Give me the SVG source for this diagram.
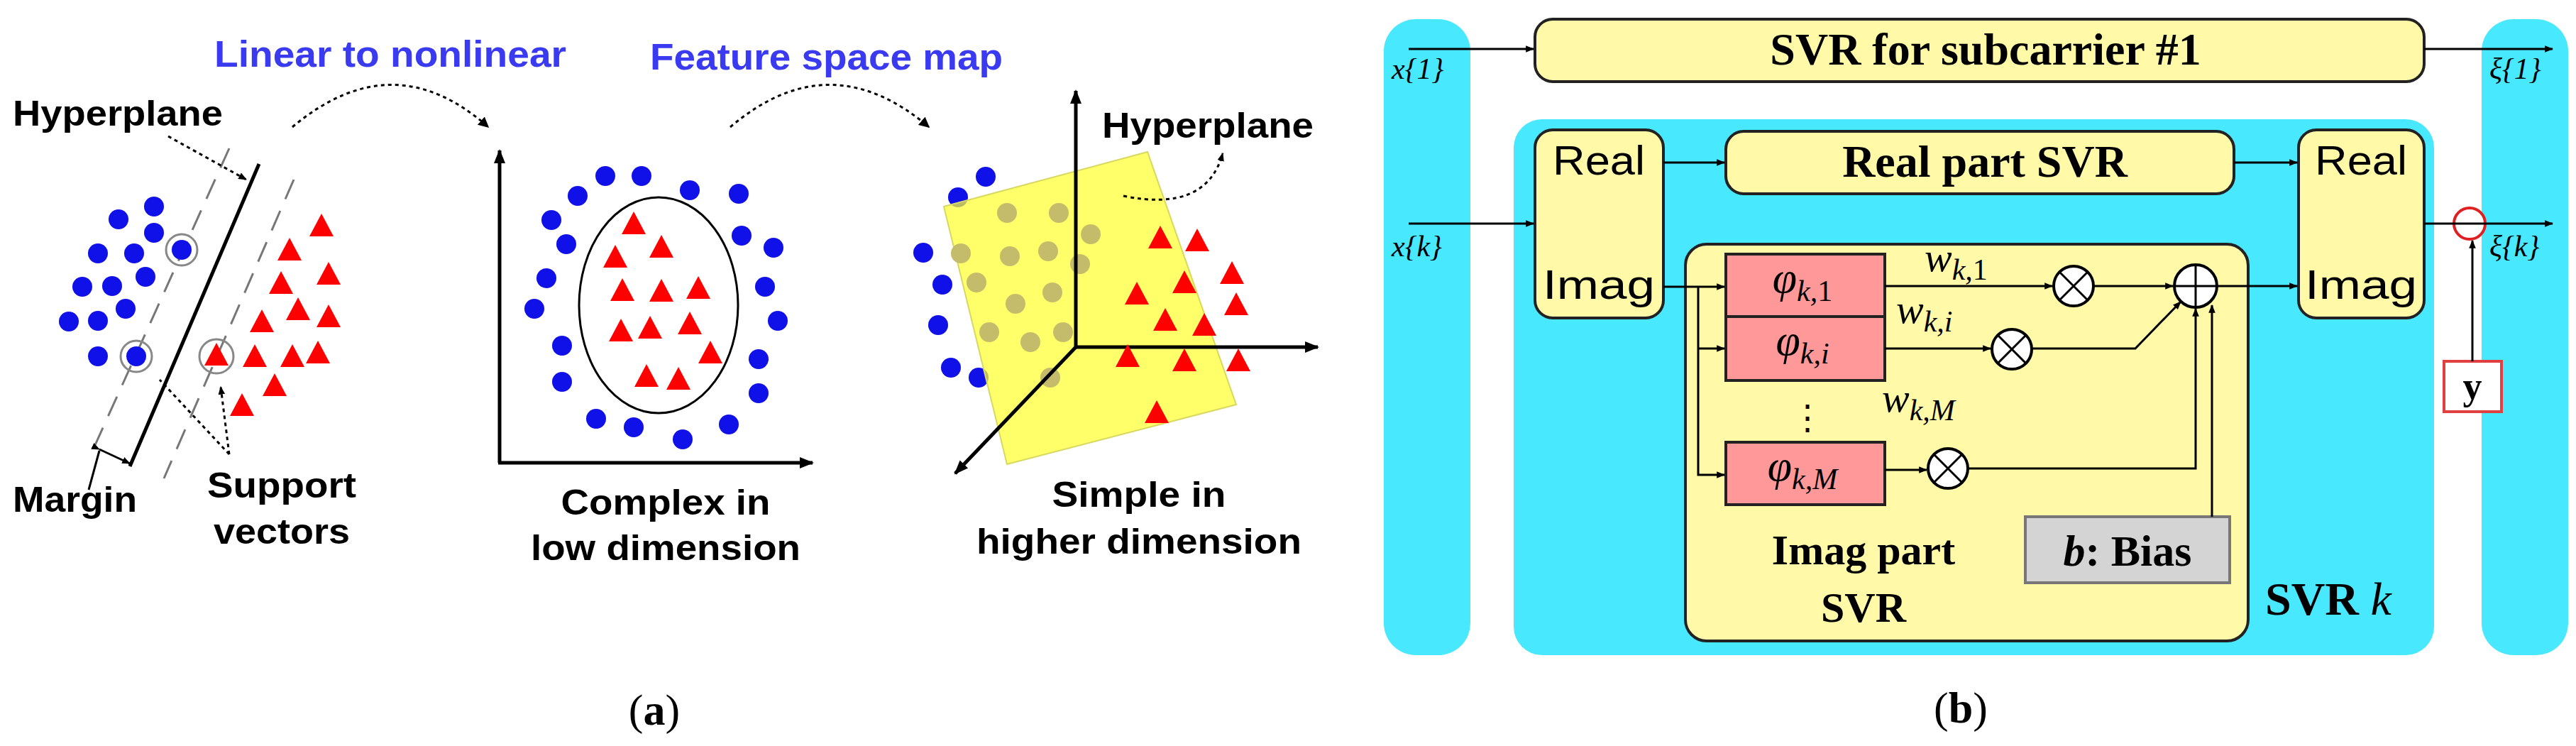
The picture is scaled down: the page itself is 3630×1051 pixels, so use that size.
<svg xmlns="http://www.w3.org/2000/svg" xmlns:xlink="http://www.w3.org/1999/xlink" width="3630" height="1051" viewBox="0 0 3630 1051">
<style>
.lbl{font-family:"Liberation Sans",Arial,sans-serif;font-size:50px;font-weight:bold;fill:#000}
.lbl2{font-family:"Liberation Sans",Arial,sans-serif;font-size:58px;fill:#000}
.blue{font-family:"Liberation Sans",Arial,sans-serif;font-size:52px;font-weight:bold;fill:#3a3af0}
.ser{font-family:"Liberation Serif","Times New Roman",serif;fill:#000}
.bd{font-family:"Liberation Serif","Times New Roman",serif;font-weight:bold;fill:#000}
.it{font-family:"Liberation Serif","Times New Roman",serif;font-style:italic;fill:#000}
.dot{fill:#1010e8}
.gd{fill:#c4bc6a}
.ln{stroke:#000;stroke-width:5;fill:none}
.ln3{stroke:#000;stroke-width:3;fill:none}
.dash{stroke:#777;stroke-width:3;fill:none;stroke-dasharray:30 18}
.dotted{stroke:#000;stroke-width:3;fill:none;stroke-dasharray:5 5}
.ylw{fill:#fff9a8;stroke:#222;stroke-width:4}
.cyan{fill:#48e8ff}
.phi{fill:#ff9898;stroke:#222;stroke-width:4}
.mul{fill:#fff;stroke:#000;stroke-width:4}
.sb{font-size:42px;baseline-shift:-12px}
</style>
<defs>
<marker id="ah" viewBox="0 0 10 10" refX="9" refY="5" markerWidth="5" markerHeight="5" orient="auto"><path d="M0,0L10,5L0,10z" fill="#000"/></marker>
<marker id="ahs" viewBox="0 0 10 10" refX="9" refY="5" markerWidth="4" markerHeight="4" orient="auto"><path d="M0,1L10,5L0,9z" fill="#000"/></marker>
<path id="tri" d="M0,-19L17,13L-17,13z" fill="#f00"/>
</defs>

<!-- Panel (a) -->
<g id="a-titles">
<text class="blue" x="302" y="94" textLength="496" lengthAdjust="spacingAndGlyphs">Linear to nonlinear</text>
<text class="blue" x="916" y="98" textLength="497" lengthAdjust="spacingAndGlyphs">Feature space map</text>
</g>
<g id="a-arrows">
<path class="dotted" d="M412,179 Q554,60 688,179" marker-end="url(#ah)"/>
<path class="dotted" d="M1029,179 Q1169,60 1309,179" marker-end="url(#ah)"/>
</g>
<g id="a-left">
<line class="dash" x1="323" y1="209" x2="134" y2="627"/>
<line class="dash" x1="414" y1="253" x2="231" y2="674"/>
<line class="ln" x1="365" y1="231" x2="183" y2="657"/>
<path class="dotted" d="M237,192 L347,253" marker-end="url(#ahs)"/>
<g>
<circle class="dot" cx="217" cy="291" r="14"/><circle class="dot" cx="167" cy="309" r="14"/><circle class="dot" cx="217" cy="328" r="14"/>
<circle class="dot" cx="138" cy="357" r="14"/><circle class="dot" cx="189" cy="357" r="14"/><circle class="dot" cx="256" cy="352" r="14"/>
<circle class="dot" cx="116" cy="404" r="14"/><circle class="dot" cx="158" cy="403" r="14"/><circle class="dot" cx="205" cy="390" r="14"/>
<circle class="dot" cx="177" cy="435" r="14"/><circle class="dot" cx="97" cy="453" r="14"/><circle class="dot" cx="138" cy="452" r="14"/>
<circle class="dot" cx="138" cy="502" r="14"/><circle class="dot" cx="192" cy="502" r="14"/>
</g>
<circle cx="256" cy="352" r="22" fill="none" stroke="#888" stroke-width="3"/>
<circle cx="192" cy="502" r="22" fill="none" stroke="#888" stroke-width="3"/>
<g>
<use href="#tri" x="453" y="320"/><use href="#tri" x="408" y="354"/><use href="#tri" x="463" y="388"/><use href="#tri" x="396" y="401"/>
<use href="#tri" x="420" y="438"/><use href="#tri" x="463" y="448"/><use href="#tri" x="369" y="455"/><use href="#tri" x="305" y="502"/>
<use href="#tri" x="359" y="504"/><use href="#tri" x="412" y="504"/><use href="#tri" x="448" y="499"/><use href="#tri" x="387" y="545"/>
<use href="#tri" x="341" y="573"/>
</g>
<circle cx="305" cy="502" r="24" fill="none" stroke="#888" stroke-width="3"/>
<path class="dotted" d="M323,640 L311,545" marker-end="url(#ahs)"/>
<path class="dotted" d="M323,640 L225,535"/>
<path class="ln3" d="M140,633 L183,653" marker-start="url(#ahs)" marker-end="url(#ahs)"/>
<line class="ln3" x1="140" y1="635" x2="125" y2="690"/>
<text class="lbl" x="18" y="177" textLength="296" lengthAdjust="spacingAndGlyphs">Hyperplane</text>
<text class="lbl" x="18" y="721" textLength="175" lengthAdjust="spacingAndGlyphs">Margin</text>
<text class="lbl" x="397" y="701" text-anchor="middle" textLength="210" lengthAdjust="spacingAndGlyphs">Support</text>
<text class="lbl" x="397" y="766" text-anchor="middle" textLength="192" lengthAdjust="spacingAndGlyphs">vectors</text>
</g>
<g id="a-middle">
<path class="ln" d="M704,652 L704,212" marker-end="url(#ahs)"/>
<path class="ln" d="M702,652 L1145,652" marker-end="url(#ahs)"/>
<ellipse cx="928" cy="430" rx="112" ry="152" fill="none" stroke="#000" stroke-width="3"/>
<g>
<circle class="dot" cx="853" cy="248" r="14"/><circle class="dot" cx="904" cy="248" r="14"/><circle class="dot" cx="972" cy="268" r="14"/>
<circle class="dot" cx="1041" cy="273" r="14"/><circle class="dot" cx="814" cy="276" r="14"/><circle class="dot" cx="777" cy="310" r="14"/>
<circle class="dot" cx="798" cy="344" r="14"/><circle class="dot" cx="1045" cy="332" r="14"/><circle class="dot" cx="1090" cy="349" r="14"/>
<circle class="dot" cx="770" cy="392" r="14"/><circle class="dot" cx="1078" cy="404" r="14"/><circle class="dot" cx="753" cy="435" r="14"/>
<circle class="dot" cx="1096" cy="452" r="14"/><circle class="dot" cx="792" cy="487" r="14"/><circle class="dot" cx="1069" cy="506" r="14"/>
<circle class="dot" cx="792" cy="538" r="14"/><circle class="dot" cx="1069" cy="554" r="14"/><circle class="dot" cx="840" cy="590" r="14"/>
<circle class="dot" cx="893" cy="602" r="14"/><circle class="dot" cx="962" cy="619" r="14"/><circle class="dot" cx="1027" cy="598" r="14"/>
</g>
<g>
<use href="#tri" x="893" y="317"/><use href="#tri" x="867" y="364"/><use href="#tri" x="932" y="350"/><use href="#tri" x="877" y="411"/>
<use href="#tri" x="932" y="412"/><use href="#tri" x="984" y="408"/><use href="#tri" x="875" y="468"/><use href="#tri" x="916" y="464"/>
<use href="#tri" x="972" y="458"/><use href="#tri" x="1001" y="499"/><use href="#tri" x="911" y="532"/><use href="#tri" x="956" y="536"/>
</g>
<text class="lbl" x="938" y="725" text-anchor="middle" textLength="295" lengthAdjust="spacingAndGlyphs">Complex in</text>
<text class="lbl" x="938" y="789" text-anchor="middle" textLength="380" lengthAdjust="spacingAndGlyphs">low dimension</text>
</g>
<g id="a-right">
<g>
<circle class="dot" cx="1389" cy="249" r="14"/><circle class="dot" cx="1350" cy="278" r="14"/><circle class="dot" cx="1301" cy="356" r="14"/>
<circle class="dot" cx="1328" cy="401" r="14"/><circle class="dot" cx="1322" cy="458" r="14"/><circle class="dot" cx="1340" cy="518" r="14"/>
<circle class="dot" cx="1379" cy="532" r="14"/>
</g>
<polygon points="1330,291 1617,214 1742,570 1419,654" fill="#ffff30" fill-opacity="0.72" stroke="#d8d860" stroke-width="2"/>
<g>
<circle class="gd" cx="1419" cy="300" r="14"/><circle class="gd" cx="1492" cy="300" r="14"/><circle class="gd" cx="1537" cy="330" r="14"/>
<circle class="gd" cx="1354" cy="357" r="14"/><circle class="gd" cx="1423" cy="361" r="14"/><circle class="gd" cx="1477" cy="354" r="14"/>
<circle class="gd" cx="1522" cy="372" r="14"/><circle class="gd" cx="1376" cy="398" r="14"/><circle class="gd" cx="1431" cy="428" r="14"/>
<circle class="gd" cx="1483" cy="412" r="14"/><circle class="gd" cx="1394" cy="468" r="14"/><circle class="gd" cx="1452" cy="482" r="14"/>
<circle class="gd" cx="1498" cy="468" r="14"/><circle class="gd" cx="1480" cy="532" r="14"/>
</g>
<path class="ln" d="M1516,489 L1516,128" marker-end="url(#ahs)"/>
<path class="ln" d="M1516,489 L1857,489" marker-end="url(#ahs)"/>
<path class="ln" d="M1516,489 L1346,667" marker-end="url(#ahs)"/>
<g>
<use href="#tri" x="1635" y="337"/><use href="#tri" x="1687" y="341"/><use href="#tri" x="1736" y="387"/><use href="#tri" x="1602" y="416"/>
<use href="#tri" x="1669" y="400"/><use href="#tri" x="1742" y="431"/><use href="#tri" x="1642" y="453"/><use href="#tri" x="1697" y="460"/>
<use href="#tri" x="1589" y="504"/><use href="#tri" x="1669" y="510"/><use href="#tri" x="1745" y="510"/><use href="#tri" x="1630" y="583"/>
</g>
<path class="dotted" d="M1583,276 Q1700,300 1723,216" marker-end="url(#ahs)"/>
<text class="lbl" x="1553" y="194" textLength="298" lengthAdjust="spacingAndGlyphs">Hyperplane</text>
<text class="lbl" x="1605" y="714" text-anchor="middle" textLength="245" lengthAdjust="spacingAndGlyphs">Simple in</text>
<text class="lbl" x="1605" y="780" text-anchor="middle" textLength="458" lengthAdjust="spacingAndGlyphs">higher dimension</text>
</g>
<text class="ser" x="922" y="1021" font-size="62" text-anchor="middle">(<tspan font-weight="bold">a</tspan>)</text>

<!-- Panel (b) -->
<g id="b-bg">
<rect class="cyan" x="1950" y="27" width="122" height="896" rx="45"/>
<rect class="cyan" x="3497" y="27" width="122" height="896" rx="45"/>
<rect class="cyan" x="2133" y="168" width="1297" height="755" rx="40"/>
</g>
<g id="svr1">
<rect class="ylw" x="2163" y="27" width="1253" height="88" rx="25"/>
<text class="bd" x="2798" y="91" font-size="64" text-anchor="middle">SVR for subcarrier #1</text>
</g>
<g id="reim-left">
<rect class="ylw" x="2163" y="183" width="181" height="265" rx="25"/>
<text class="lbl2" x="2253" y="246" text-anchor="middle" textLength="130" lengthAdjust="spacingAndGlyphs">Real</text>
<text class="lbl2" x="2253" y="421" text-anchor="middle" textLength="158" lengthAdjust="spacingAndGlyphs">Imag</text>
</g>
<g id="real-svr">
<rect class="ylw" x="2432" y="185" width="716" height="88" rx="25"/>
<text class="bd" x="2797" y="249" font-size="64" text-anchor="middle">Real part SVR</text>
</g>
<g id="reim-right">
<rect class="ylw" x="3239" y="183" width="177" height="265" rx="25"/>
<text class="lbl2" x="3327" y="246" text-anchor="middle" textLength="130" lengthAdjust="spacingAndGlyphs">Real</text>
<text class="lbl2" x="3327" y="421" text-anchor="middle" textLength="158" lengthAdjust="spacingAndGlyphs">Imag</text>
</g>
<g id="imag-svr">
<rect class="ylw" x="2375" y="344" width="793" height="559" rx="30"/>
<text class="bd" x="2626" y="795" font-size="60" text-anchor="middle">Imag part</text>
<text class="bd" x="2626" y="876" font-size="60" text-anchor="middle">SVR</text>
</g>
<g id="phi1"><rect class="phi" x="2432" y="358" width="224" height="88"/><text class="it" x="2540" y="412" font-size="62" text-anchor="middle">φ<tspan class="sb">k,</tspan><tspan class="sb" font-style="normal">1</tspan></text></g>
<g id="phii"><rect class="phi" x="2432" y="446" width="224" height="90"/><text class="it" x="2540" y="500" font-size="62" text-anchor="middle">φ<tspan class="sb">k,i</tspan></text></g>
<g id="phiM"><rect class="phi" x="2432" y="623" width="224" height="88"/><text class="it" x="2540" y="677" font-size="62" text-anchor="middle">φ<tspan class="sb">k,M</tspan></text></g>
<text class="ser" x="2547" y="605" font-size="48" text-anchor="middle">⋮</text>
<g id="weights">
<text class="it" x="2712" y="382" font-size="58">w<tspan class="sb">k,</tspan><tspan class="sb" font-style="normal">1</tspan></text>
<text class="it" x="2672" y="455" font-size="58">w<tspan class="sb">k,i</tspan></text>
<text class="it" x="2652" y="580" font-size="58">w<tspan class="sb">k,M</tspan></text>
</g>
<g id="mul1"><circle class="mul" cx="2922" cy="403" r="28"/><path class="ln3" d="M2902,383L2942,423M2942,383L2902,423"/></g>
<g id="muli"><circle class="mul" cx="2835" cy="492" r="28"/><path class="ln3" d="M2815,472L2855,512M2855,472L2815,512"/></g>
<g id="mulM"><circle class="mul" cx="2745" cy="660" r="28"/><path class="ln3" d="M2725,640L2765,680M2765,640L2725,680"/></g>
<g id="sum"><circle class="mul" cx="3094" cy="403" r="30"/><path class="ln3" d="M3064,403L3124,403M3094,373L3094,433"/></g>
<g id="bias"><rect x="2854" y="728" width="288" height="93" fill="#d4d4d4" stroke="#777" stroke-width="4"/><text class="bd" x="2998" y="797" font-size="62" text-anchor="middle"><tspan font-style="italic">b</tspan>: Bias</text></g>
<text class="bd" x="3192" y="866" font-size="66">SVR <tspan font-style="italic" font-weight="normal">k</tspan></text>
<g id="ybox"><rect x="3444" y="509" width="81" height="71" fill="#fff" stroke="#e04040" stroke-width="4"/><text class="bd" x="3484" y="562" font-size="54" text-anchor="middle">y</text></g>
<circle cx="3480" cy="315" r="22" fill="#fff" stroke="#e02020" stroke-width="4"/>
<g id="b-labels">
<text class="it" x="1961" y="111" font-size="42">x{1}</text>
<text class="it" x="1961" y="361" font-size="42">x{k}</text>
<text class="it" x="3508" y="111" font-size="42">ξ{1}</text>
<text class="it" x="3508" y="361" font-size="42">ξ{k}</text>
</g>
<g id="connectors">
<path class="ln3" d="M1985,69 L2161,69" marker-end="url(#ahs)"/>
<path class="ln3" d="M3416,69 L3597,69" marker-end="url(#ahs)"/>
<path class="ln3" d="M1985,315 L2161,315" marker-end="url(#ahs)"/>
<path class="ln3" d="M3416,315 L3597,315" marker-end="url(#ahs)"/>
<path class="ln3" d="M3484,509 L3484,339" marker-end="url(#ahs)"/>
<path class="ln3" d="M2344,229 L2430,229" marker-end="url(#ahs)"/>
<path class="ln3" d="M3148,229 L3237,229" marker-end="url(#ahs)"/>
<path class="ln3" d="M2344,404 L2430,404" marker-end="url(#ahs)"/>
<path class="ln3" d="M2393,404 L2393,669 L2430,669" marker-end="url(#ahs)"/>
<path class="ln3" d="M2393,491 L2430,491" marker-end="url(#ahs)"/>
<path class="ln3" d="M2656,403 L2892,403" marker-end="url(#ahs)"/>
<path class="ln3" d="M2950,403 L3062,403" marker-end="url(#ahs)"/>
<path class="ln3" d="M2656,491 L2805,491" marker-end="url(#ahs)"/>
<path class="ln3" d="M2863,491 L3009,491 L3073,425" marker-end="url(#ahs)"/>
<path class="ln3" d="M2656,662 L2715,662" marker-end="url(#ahs)"/>
<path class="ln3" d="M2773,660 L3094,660 L3094,435" marker-end="url(#ahs)"/>
<path class="ln3" d="M3117,728 L3117,430" marker-end="url(#ahs)"/>
<path class="ln3" d="M3124,403 L3237,403" marker-end="url(#ahs)"/>
</g>
<text class="ser" x="2763" y="1018" font-size="62" text-anchor="middle">(<tspan font-weight="bold">b</tspan>)</text>
</svg>
